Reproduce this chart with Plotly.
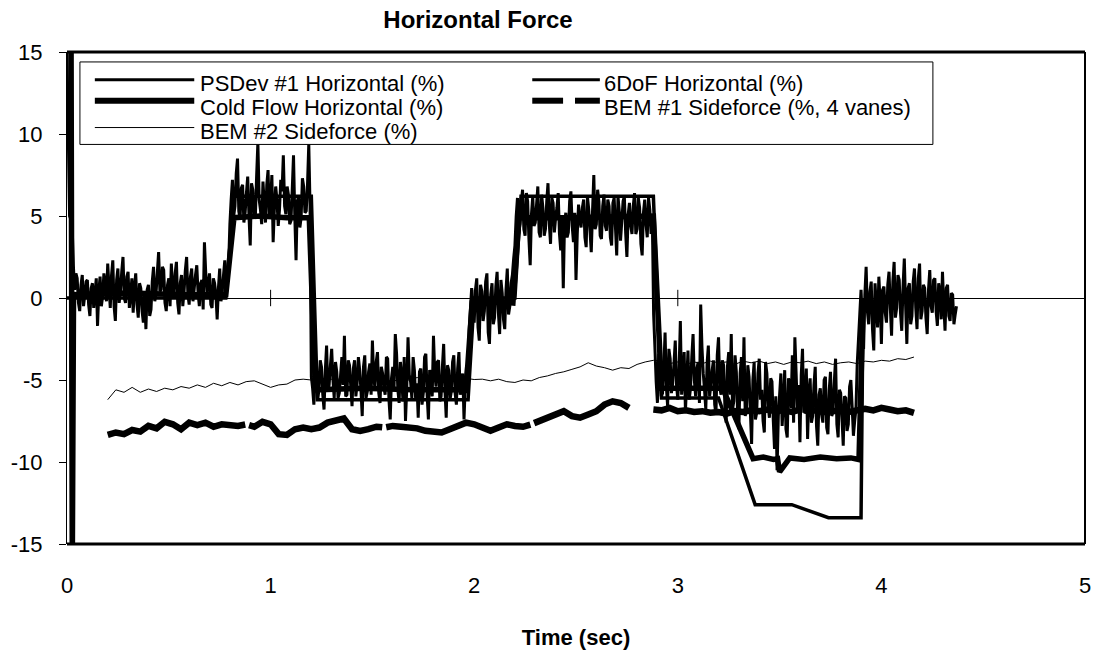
import plotly.graph_objects as go

# ------------------------------------------------------------------ data
# PSDev #1 Horizontal (%) sampled every 0.00625 s starting at t = 0.
# "_a" lists hold the samples at even indices, "_b" lists the samples in between.
psdev_dt = 0.00625
psdev_start_a = [15.0, 5.0, 4.5, 0.5]
psdev_start_b = [10.0, 4.8, 2.0, 1.5]
psdev_idle_a = [1.2, -0.8, 1.4, 0.2, 1.1, -1.1, 0.9, 0.3, -1.7, 1.3,
                0.1, 0.9, 2.1, -0.6, 2.3, -1.4, 1.8, 0.4, 2.5, -0.3,
                1.6, 0.2, -0.9, 1.5, -1.2, 0.6, -1.5, -1.9, 0.8, -0.7,
                1.9, 0.3, 2.8, 0.5, 1.7, -0.8, 1.2, 2.1, 0.2, 2.2,
                -1.0, 1.4, 0.4, 2.5, -0.4, 1.8, 0.6, 2.0, -0.5, 1.1,
                3.4, 0.3, 1.5, -0.6, 0.9, -1.3, 1.8, 0.4, 2.3, 1.0]
psdev_idle_b = [-0.3, 0.8, -0.5, 1.0, -0.4, 0.6, -0.6, 1.2, 0.4, -0.5,
                1.5, -0.2, 0.7, 1.4, -0.5, 1.1, -0.3, 1.6, 0.0, 1.3,
                -0.6, 1.2, 0.6, -0.4, 0.9, -0.8, 0.3, 0.5, -1.1, 1.0,
                -0.2, 1.6, 0.4, 1.9, -0.3, 0.8, -0.5, 0.6, 1.5, -0.3,
                0.9, -0.5, 1.7, 0.2, 1.3, -0.2, 1.4, 0.3, 0.9, -0.7,
                1.6, 0.8, -0.4, 1.2, 0.2, 0.6, -0.2, 1.4, 0.5, 2.0]
psdev_pos1_a = [4.5, 7.2, 5.6, 8.5, 4.8, 6.9, 5.2, 7.4, 3.2, 6.6,
                4.9, 9.5, 5.4, 7.1, 4.6, 7.8, 5.9, 3.4, 6.8, 4.4,
                7.2, 8.7, 5.1, 6.3, 4.7, 8.7, 2.3, 6.2, 4.9, 6.8,
                5.3, 9.4]
psdev_pos1_b = [6.0, 5.0, 7.6, 5.3, 6.7, 4.6, 6.4, 5.0, 7.0, 5.1,
                7.4, 6.0, 4.5, 5.8, 6.9, 4.9, 7.5, 5.5, 6.0, 5.4,
                6.5, 5.6, 6.8, 4.5, 6.6, 5.0, 5.9, 4.3, 7.3, 5.2,
                6.9, 5.6]
psdev_neg1_a = [-4.8, -6.5, -3.9, -5.6, -4.2, -6.8, -2.9, -5.3, -3.1, -6.1,
                -4.5, -5.8, -3.6, -2.3, -5.9, -4.1, -6.6, -3.8, -5.2, -4.4,
                -7.2, -3.5, -5.7, -4.0, -2.6, -5.5, -3.3, -6.4, -4.6, -5.9,
                -3.7, -7.4, -4.2, -2.2, -5.6, -3.9, -6.3, -7.5, -2.4, -5.1,
                -3.6, -6.2, -7.3, -4.3, -5.8, -3.4, -7.4, -4.7, -2.3, -5.4,
                -3.8, -6.0, -2.8, -7.3, -4.4, -5.7, -3.5, -6.5, -3.3, -5.2,
                -7.4, -4.1]
psdev_neg1_b = [-5.5, -4.6, -6.2, -3.8, -5.9, -4.4, -5.7, -4.1, -5.0, -3.9,
                -6.1, -4.7, -5.3, -6.0, -3.8, -5.4, -4.3, -6.0, -3.6, -5.6,
                -4.2, -6.1, -4.5, -5.9, -4.8, -3.9, -5.8, -4.2, -5.4, -3.6,
                -6.2, -4.9, -5.5, -3.4, -6.4, -4.8, -3.6, -5.5, -4.7, -6.1,
                -4.4, -5.2, -4.5, -6.5, -3.6, -5.9, -4.4, -6.0, -4.6, -3.9,
                -6.3, -4.2, -5.6, -4.1, -6.2, -3.9, -5.8, -4.3, -5.9, -4.6,
                -5.3, -5.8]
psdev_mid_a = [-2.0, 0.6, -1.5, 1.2, -2.6, 0.4, -0.8, 1.5, -2.8, 0.9,
               -1.2, 1.6, -2.2, 0.3, -1.9, 1.8, -0.5, 1.4]
psdev_mid_b = [-0.7, -0.9, 0.5, -1.8, 0.8, -1.4, 1.0, -2.1, 0.2, -1.6,
               0.7, -0.9, 1.1, -1.3, 0.5, -1.0, 0.9, 2.4]
psdev_pos2_a = [3.2, 6.1, 4.5, 6.6, 3.8, 5.9, 2.0, 6.2, 4.6, 6.8,
                3.7, 5.5, 4.2, 7.0, 3.3, 5.8, 4.9, 6.4, 2.9, 0.6,
                5.2, 4.0, 6.5, 3.4, 1.1, 5.7, 4.3, 6.0, 3.1, 5.4,
                2.8, 7.5, 4.5, 5.9, 3.6, 6.3, 4.1, 5.6, 3.2, 6.1,
                2.6, 5.3, 4.7, 6.2, 2.5, 5.8, 3.9, 6.4, 4.2, 5.5,
                2.6, 6.0, 3.7, 5.4, 4.8]
psdev_pos2_b = [5.0, 3.9, 5.8, 4.2, 6.4, 3.6, 5.1, 4.4, 5.7, 4.0,
                6.3, 3.8, 5.9, 4.5, 6.1, 4.0, 5.5, 3.9, 5.0, 4.6,
                3.7, 5.9, 4.4, 5.2, 3.9, 4.8, 5.5, 3.7, 6.2, 4.1,
                5.3, 4.2, 6.6, 3.8, 5.6, 4.4, 6.0, 3.7, 5.8, 4.3,
                6.2, 3.5, 5.9, 4.0, 5.1, 4.4, 5.6, 3.9, 6.1, 3.3,
                5.2, 4.5, 6.1, 3.9, -1.0]
psdev_neg2_a = [-3.0, -6.4, -4.2, -5.8, -2.1, -6.6, -3.7, -5.2, -2.6, -6.2,
                -1.4, -4.8, -6.9, -3.2, -5.5, -2.2, -6.0, -3.9, -0.4, -4.6,
                -6.8, -2.9, -5.3, -3.8, -7.1, -2.4, -5.9, -4.1, -7.6, -3.3,
                -2.2, -6.3, -4.5, -8.0, -3.6, -2.4, -6.7, -4.8, -8.9, -3.9,
                -7.0, -3.7, -5.6, -8.2, -4.6, -7.3, -5.1, -9.2, -10.5, -5.9,
                -7.8, -4.4, -8.5, -5.2, -3.5, -2.4, -6.9, -8.8, -3.1, -6.4,
                -8.6, -4.9, -7.2, -4.2, -9.0, -5.5, -7.6, -4.8, -8.3, -4.5,
                -6.9, -3.7, -8.5, -5.8, -9.0, -6.1, -7.7, -5.0, -8.4, -6.8]
psdev_neg2_b = [-5.1, -3.4, -6.0, -4.3, -5.4, -3.1, -5.8, -4.0, -5.3, -4.4,
                -5.9, -3.3, -5.1, -6.2, -3.6, -5.0, -4.3, -6.4, -3.0, -5.6,
                -4.0, -6.0, -4.4, -6.5, -3.5, -5.5, -3.8, -6.6, -4.2, -5.9,
                -6.8, -3.5, -7.0, -4.6, -6.3, -7.2, -4.1, -6.9, -5.0, -7.4,
                -4.6, -6.2, -7.5, -3.9, -6.6, -4.9, -7.4, -6.0, -7.2, -4.6,
                -6.4, -8.0, -4.9, -6.7, -7.6, -4.6, -5.3, -4.7, -7.0, -4.3,
                -5.8, -7.6, -5.3, -7.8, -5.9, -7.1, -5.0, -7.9, -5.6, -7.2,
                -5.1, -7.7, -5.6, -7.3, -6.0, -8.1, -5.4, -6.6, -7.5, -4.0]
psdev_end_a = [-2.5, 0.5, -3.1, 1.9, -1.6, 1.0, -3.2, -0.4, 1.3, -2.8,
               0.7, -1.5, 1.6, -2.3, 2.2, -0.6, 1.1, -2.0, 2.4, -2.8,
               0.9, -1.1, 1.8, -1.9, 2.1, -0.8, 0.6, -2.2, 1.7, -0.9,
               1.2, -1.7, 0.4, 1.6, -2.0, 0.8, -1.4, 0.2, -1.0]
psdev_end_b = [-1.0, -1.3, 0.2, -0.8, 0.4, -1.9, 0.9, -1.8, -0.2, 0.5,
               -0.9, 0.8, -0.6, 1.0, -1.2, 1.4, -0.9, 0.7, -0.4, 0.6,
               -1.6, 1.0, -0.6, 1.2, -1.3, 0.8, -1.2, 0.5, -0.5, 1.1,
               -0.8, 0.9, -1.3, -0.4, 0.6, -1.1, 0.3, -1.6, -0.5]

# 6DoF Horizontal (%)
sixdof_t = [0.0, 0.78, 0.82, 1.20, 1.23, 1.97, 2.00, 2.20, 2.23, 2.88, 2.92,
            3.20, 3.38, 3.56, 3.74, 3.90, 3.91]
sixdof_pct = [0.0, 0.0, 6.2, 6.2, -6.2, -6.2, 0.0, 0.0, 6.2, 6.2, -6.1,
              -6.1, -12.6, -12.6, -13.4, -13.4, 0.0]

# Cold Flow Horizontal (%)
cold_t = [0.020, 0.026, 0.032, 0.30, 0.60, 0.78, 0.82, 0.95, 1.08, 1.19,
          1.22, 1.45, 1.70, 1.96, 1.99, 2.10, 2.19, 2.22, 2.45, 2.70, 2.88,
          2.92, 3.05, 3.22, 3.37, 3.42, 3.47, 3.49, 3.50, 3.55, 3.62, 3.70,
          3.78, 3.85, 3.89, 3.91]
cold_pct = [15.5, -16.5, 0.2, 0.3, 0.2, 0.2, 4.9, 5.0, 4.9, 4.9,
            -5.6, -5.5, -5.6, -5.6, -0.3, -0.2, -0.3, 4.9, 4.9, 5.0, 5.0,
            -5.5, -5.5, -5.5, -9.8, -9.7, -9.85, -9.8, -10.6, -9.75, -9.85, -9.7,
            -9.8, -9.75, -9.85, -0.2]

# BEM #1 Sideforce (%, 4 vanes), every 0.04 s, two pieces
bem1_dt = 0.04
bem1_a_t0 = 0.20
bem1_a_pct = [-8.35, -8.2, -8.3, -8.05, -8.15, -7.8, -7.95, -7.55, -7.7, -8.0,
              -7.6, -7.75, -7.6, -7.85, -7.7, -7.75, -7.8, -7.7, -7.85, -7.55,
              -7.7, -8.3, -8.35, -8.0, -7.9, -8.0, -7.9, -7.6, -7.45, -7.35,
              -8.0, -8.1, -8.0, -7.85, -7.9, -7.8, -7.85, -7.9, -7.95, -8.1,
              -8.15, -8.2, -8.0, -7.8, -7.6, -7.7, -7.9, -8.1, -7.9, -7.7,
              -7.8, -7.85, -7.7, -7.5, -7.3, -7.0, -6.9, -7.2, -7.3, -7.1,
              -6.9, -6.5, -6.3, -6.4, -6.7]
bem1_b_t0 = 2.88
bem1_b_pct = [-6.8, -6.85, -6.7, -6.9, -6.85, -6.95, -6.9, -7.0, -6.95, -7.05,
              -6.9, -6.95, -6.85, -6.9, -6.8, -6.9, -6.85, -6.95, -6.8, -6.9,
              -6.85, -6.95, -6.9, -6.85, -6.95, -6.8, -6.75, -6.85, -6.7, -6.8,
              -6.9, -6.85, -7.0]

# BEM #2 Sideforce (%), every 0.04 s from 0.20 s
bem2_dt = 0.04
bem2_t0 = 0.20
bem2_pct = [-6.2, -5.6, -5.75, -5.45, -5.75, -5.55, -5.7, -5.5, -5.6, -5.4,
            -5.5, -5.3, -5.45, -5.2, -5.35, -5.15, -5.3, -5.1, -5.05, -5.25,
            -5.45, -5.3, -5.25, -5.0, -4.95, -5.0, -4.85, -5.0, -4.9, -5.05,
            -4.85, -5.0, -4.9, -5.05, -4.95, -5.1, -4.9, -5.0, -4.85, -4.95,
            -4.8, -4.95, -4.85, -5.0, -4.9, -4.97, -4.95, -5.05, -4.95, -5.1,
            -5.15, -5.0, -5.05, -4.85, -4.75, -4.6, -4.5, -4.35, -4.2, -3.95,
            -4.15, -4.25, -4.4, -4.25, -4.3, -4.05, -3.9, -3.8, -3.85, -4.0,
            -3.9, -4.05, -3.9, -4.0, -3.85, -3.95, -3.9, -4.05, -3.85, -3.95,
            -3.85, -4.0, -3.9, -4.05, -3.9, -3.95, -3.85, -4.0, -3.9, -4.05,
            -3.95, -3.9, -4.0, -3.85, -3.9, -3.8, -3.85, -3.7, -3.75, -3.6]

series_names = ["PSDev #1 Horizontal (%)", "6DoF Horizontal (%)",
                "Cold Flow Horizontal (%)", "BEM #1 Sideforce (%, 4 vanes)",
                "BEM #2 Sideforce (%)"]
x_ticks = [0, 1, 2, 3, 4, 5]
x_ticktext = ["0", "1", "2", "3", "4", "5"]
y_ticks = [-15, -10, -5, 0, 5, 10, 15]
y_ticktext = ["-15", "-10", "-5", "0", "5", "10", "15"]

# ------------------------------------------------------------------ build series
psdev_a = (psdev_start_a + psdev_idle_a + psdev_pos1_a + psdev_neg1_a + psdev_mid_a
           + psdev_pos2_a + psdev_neg2_a + psdev_end_a)
psdev_b = (psdev_start_b + psdev_idle_b + psdev_pos1_b + psdev_neg1_b + psdev_mid_b
           + psdev_pos2_b + psdev_neg2_b + psdev_end_b)
assert len(psdev_a) == 350 and len(psdev_b) == 350, (len(psdev_a), len(psdev_b))
psdev_pct = []
for va, vb in zip(psdev_a, psdev_b):
    psdev_pct.extend([va, vb])
psdev_t = [round(i * psdev_dt, 5) for i in range(len(psdev_pct))]

bem1_t = ([round(bem1_a_t0 + i * bem1_dt, 3) for i in range(len(bem1_a_pct))] + [None]
          + [round(bem1_b_t0 + i * bem1_dt, 3) for i in range(len(bem1_b_pct))])
bem1_y = bem1_a_pct + [None] + bem1_b_pct
bem2_t = [round(bem2_t0 + i * bem2_dt, 3) for i in range(len(bem2_pct))]

FONT = "Liberation Sans, Arial, Helvetica, sans-serif"
BLACK = "#000000"

fig = go.Figure()
fig.add_trace(go.Scatter(x=psdev_t, y=psdev_pct, mode="lines", name=series_names[0],
                         line=dict(color=BLACK, width=3, simplify=False)))
fig.add_trace(go.Scatter(x=sixdof_t, y=sixdof_pct, mode="lines", name=series_names[1],
                         line=dict(color=BLACK, width=3.5)))
fig.add_trace(go.Scatter(x=cold_t, y=cold_pct, mode="lines", name=series_names[2],
                         line=dict(color=BLACK, width=5.5)))
fig.add_trace(go.Scatter(x=bem1_t, y=bem1_y, mode="lines", name=series_names[3],
                         connectgaps=False,
                         line=dict(color=BLACK, width=6.5, dash="150px,4px")))
fig.add_trace(go.Scatter(x=bem2_t, y=bem2_pct, mode="lines", name=series_names[4],
                         line=dict(color=BLACK, width=1)))

# ------------------------------------------------------------------ layout
W, H = 1102, 656
L, R, T, B = 67, 11, 52, 109
PW, PH = W - L - R, H - T - B


def px_x(px):
    return (px - L) / PW


def px_y(py):
    return (T + PH - py) / PH


shapes = []
# plot frame
shapes.append(dict(type="line", xref="paper", yref="paper", x0=0, x1=1, y0=1, y1=1,
                   line=dict(color=BLACK, width=3), layer="above"))
shapes.append(dict(type="line", xref="paper", yref="paper", x0=0, x1=1, y0=0, y1=0,
                   line=dict(color=BLACK, width=3), layer="above"))
shapes.append(dict(type="line", xref="paper", yref="paper", x0=1, x1=1, y0=0, y1=1,
                   line=dict(color=BLACK, width=2), layer="above"))
# small tick marks on the zero axis
for xv in x_ticks[1:-1]:
    shapes.append(dict(type="line", xref="x", yref="y", x0=xv, x1=xv, y0=-0.5, y1=0.5,
                       line=dict(color=BLACK, width=1), layer="below"))

# legend box
shapes.append(dict(type="rect", xref="paper", yref="paper",
                   x0=px_x(80), x1=px_x(938), y0=px_y(145), y1=px_y(62),
                   line=dict(color=BLACK, width=1), fillcolor="white", layer="above"))
# legend samples
c1x0, c1x1 = px_x(95), px_x(195)
c2x0, c2x1 = px_x(535), px_x(603)
rows_line = [80, 101, 128]
rows_text = [84, 108, 132]
shapes.append(dict(type="line", xref="paper", yref="paper", x0=c1x0, x1=c1x1,
                   y0=px_y(rows_line[0]), y1=px_y(rows_line[0]),
                   line=dict(color=BLACK, width=3), layer="above"))
shapes.append(dict(type="line", xref="paper", yref="paper", x0=c1x0, x1=c1x1,
                   y0=px_y(rows_line[1]), y1=px_y(rows_line[1]),
                   line=dict(color=BLACK, width=6), layer="above"))
shapes.append(dict(type="line", xref="paper", yref="paper", x0=c1x0, x1=c1x1,
                   y0=px_y(rows_line[2]), y1=px_y(rows_line[2]),
                   line=dict(color=BLACK, width=1), layer="above"))
shapes.append(dict(type="line", xref="paper", yref="paper", x0=c2x0, x1=c2x1,
                   y0=px_y(rows_line[0]), y1=px_y(rows_line[0]),
                   line=dict(color=BLACK, width=3), layer="above"))
shapes.append(dict(type="line", xref="paper", yref="paper", x0=px_x(535), x1=px_x(566),
                   y0=px_y(rows_line[1]), y1=px_y(rows_line[1]),
                   line=dict(color=BLACK, width=6), layer="above"))
shapes.append(dict(type="line", xref="paper", yref="paper", x0=px_x(578), x1=px_x(603),
                   y0=px_y(rows_line[1]), y1=px_y(rows_line[1]),
                   line=dict(color=BLACK, width=6), layer="above"))

annotations = []
legend_pos = [(199, rows_text[0], 0), (605, rows_text[0], 1), (199, rows_text[1], 2),
              (605, rows_text[1], 3), (199, rows_text[2], 4)]
for px, py, k in legend_pos:
    annotations.append(dict(text=series_names[k], xref="paper", yref="paper",
                            x=px_x(px), y=px_y(py), xanchor="left", yanchor="middle",
                            showarrow=False, font=dict(family=FONT, size=22, color=BLACK)))

fig.update_layout(
    width=W, height=H,
    margin=dict(l=L, r=R, t=T, b=B),
    paper_bgcolor="white", plot_bgcolor="white",
    showlegend=False,
    font=dict(family=FONT, size=22, color=BLACK),
    title=dict(text="<b>Horizontal Force</b>", x=478 / W, xref="container",
               xanchor="center", y=1 - 20 / H, yref="container", yanchor="middle",
               font=dict(family=FONT, size=24, color=BLACK)),
    xaxis=dict(range=[0, 5], tickvals=x_ticks, ticktext=x_ticktext, showgrid=False,
               zeroline=False, showline=False, ticks="", ticklabelstandoff=26,
               tickfont=dict(family=FONT, size=22, color=BLACK),
               title=dict(text="<b>Time (sec)</b>", standoff=32,
                          font=dict(family=FONT, size=22, color=BLACK))),
    yaxis=dict(range=[-15, 15], tickvals=y_ticks, ticktext=y_ticktext, showgrid=False,
               zeroline=True, zerolinecolor=BLACK, zerolinewidth=1,
               showline=True, linecolor=BLACK, linewidth=1,
               ticks="outside", ticklen=7, tickwidth=1, tickcolor=BLACK,
               ticklabelstandoff=12,
               tickfont=dict(family=FONT, size=22, color=BLACK)),
    shapes=shapes,
    annotations=annotations,
)

# remove the browser's default 8 px body margin so the 1102x656 figure fills the window
fig.write_html("out.html",
               config={"displayModeBar": False},
               post_script="document.body.style.margin='0';"
                           "document.body.style.overflow='hidden';")
